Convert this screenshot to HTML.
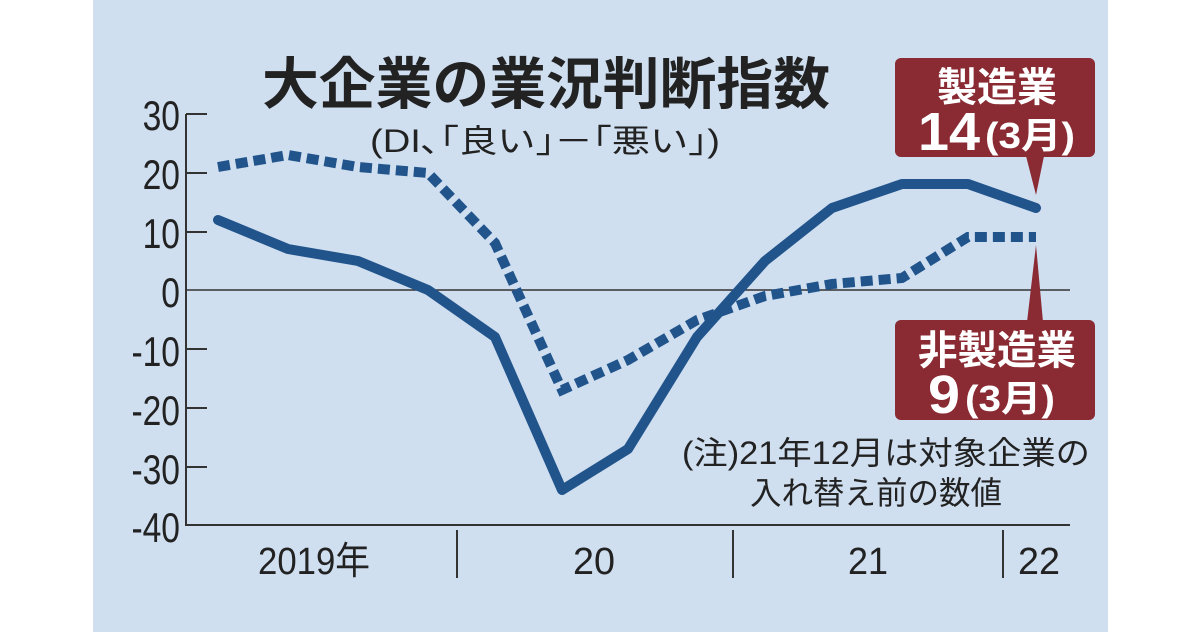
<!DOCTYPE html><html><head><style>
body{margin:0;background:#fff;width:1200px;height:632px;overflow:hidden}
</style></head><body>
<svg width="1200" height="632" xmlns="http://www.w3.org/2000/svg" style="font-family:'Liberation Sans','Noto Sans CJK JP',sans-serif">
<rect x="93" y="0" width="1015" height="632" fill="#cfdff0"/>
<text x="262" y="104" font-size="56" font-weight="bold" fill="#222" textLength="568" lengthAdjust="spacingAndGlyphs">大企業の業況判断指数</text>
<text x="370" y="152" font-size="32" fill="#222" textLength="350" lengthAdjust="spacingAndGlyphs">(DI､｢良い｣－｢悪い｣)</text>
<g font-size="42" fill="#222" text-anchor="end" transform="scale(0.8,1)">
<text x="225" y="130">30</text><text x="225" y="189">20</text><text x="225" y="248">10</text><text x="225" y="307">0</text>
<text x="225" y="366">-10</text><text x="225" y="425">-20</text><text x="225" y="484">-30</text><text x="225" y="542">-40</text>
</g>
<g stroke="#333" stroke-width="2" fill="none">
<path d="M186 114V525H1070"/>
<path d="M186 114h21M186 173h21M186 232h21M186 349h21M186 408h21M186 467h21"/>
<path d="M186 290H1070" stroke-width="1.5"/>
<path d="M457 530v48M733 530v48M1003 530v48"/>
</g>
<g font-size="38" fill="#222">
<text x="258" y="574" textLength="112" lengthAdjust="spacingAndGlyphs">2019年</text>
<text x="573" y="574" textLength="42" lengthAdjust="spacingAndGlyphs">20</text>
<text x="848" y="574" textLength="40" lengthAdjust="spacingAndGlyphs">21</text>
<text x="1018" y="574" textLength="42" lengthAdjust="spacingAndGlyphs">22</text>
</g>
<text x="682" y="464" font-size="32" fill="#222" textLength="408" lengthAdjust="spacingAndGlyphs">(注)21年12月は対象企業の</text>
<text x="750" y="504" font-size="32" fill="#222" textLength="252" lengthAdjust="spacingAndGlyphs">入れ替え前の数値</text>
<polyline fill="none" stroke="#22548c" stroke-width="10" stroke-dasharray="12,6" points="218,167 288,155 358,167 428,173 495,243 562,390 628,360 697,320 765,296 832,284 902,278 968,237 1036,237"/>
<polyline fill="none" stroke="#22548c" stroke-width="10" stroke-linecap="round" stroke-linejoin="round" points="218,220 288,249 358,261 428,290 495,337 562,490 628,449 697,337 765,261 832,208 902,184 968,184 1036,208"/>
<g fill="#8a2a33">
<rect x="895" y="58" width="200" height="99" rx="6"/>
<path d="M1026 156 L1036 195 L1044 156Z"/>
<rect x="895" y="320" width="200" height="100" rx="6"/>
<path d="M1027 322 L1036 245 L1043 322Z"/>
</g>
<g fill="#fff" font-weight="bold">
<text x="937" y="101" font-size="40" textLength="120" lengthAdjust="spacingAndGlyphs">製造業</text>
<text x="918" y="150" font-size="54" textLength="62" lengthAdjust="spacingAndGlyphs">14</text>
<text x="985" y="148" font-size="36" textLength="90" lengthAdjust="spacingAndGlyphs">(3月)</text>
<text x="918" y="364" font-size="40" textLength="158" lengthAdjust="spacingAndGlyphs">非製造業</text>
<text x="928" y="413" font-size="54" textLength="32" lengthAdjust="spacingAndGlyphs">9</text>
<text x="965" y="411" font-size="36" textLength="90" lengthAdjust="spacingAndGlyphs">(3月)</text>
</g>
</svg>
</body></html>
